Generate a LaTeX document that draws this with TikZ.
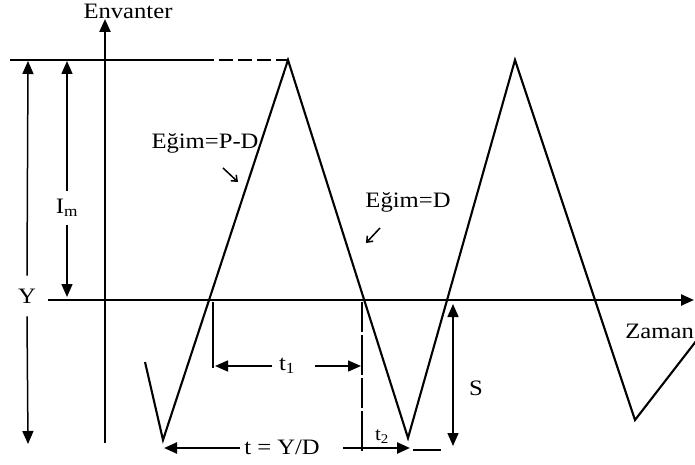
\documentclass[tikz,border=0pt]{standalone}
\usepackage{fontspec}
\setmainfont{Liberation Serif}[FakeStretch=1.12]
\usetikzlibrary{arrows.meta}
\tikzset{
  lbl/.style={inner sep=0pt, font=\fontsize{22}{26}\selectfont},
  smalllbl/.style={inner sep=0pt, font=\fontsize{19}{22}\selectfont},
  tri/.style={-{Triangle[length=13pt,width=11pt]}},
  thin line/.style={line width=1.5pt},
  axis/.style={line width=2.4pt},
  curve/.style={line width=2.1pt, line join=miter},
  barb/.style={line width=1.5pt, -{Straight Barb[length=5pt,width=8pt]}}
}
\begin{document}
\begin{tikzpicture}[x=1pt,y=-1pt]
\useasboundingbox (0,0) rectangle (695,465);
% named points
\coordinate (vb) at (105,443);
\coordinate (vt) at (105,19);
\coordinate (hl) at (48,300);
\coordinate (hr) at (694,300);
\coordinate (tl) at (10,60);
\coordinate (tm) at (200,60);
\coordinate (p0) at (145,362);
\coordinate (p1) at (163,440);
\coordinate (p2) at (288,60);
\coordinate (p3) at (408,438);
\coordinate (p4) at (515,60);
\coordinate (p5) at (635,420);
\coordinate (p6) at (700,336);
% axes
\draw[axis,tri] (vb) -- (vt);
\node[lbl] (env) at (128,11) {Envanter};
\draw[axis,tri] (hl) -- (hr);
\node[lbl,anchor=east] (zaman) at (694,331) {Zaman};
% top reference line
\draw[thin line] (tl) -- (tm);
\draw[thin line,dash pattern=on 14pt off 5pt] (tm) -- (p2);
% sawtooth
\draw[curve] (p0) -- (p1) -- (p2) -- (p3) -- (p4) -- (p5) -- (p6);
% Y dimension
\node[lbl] (ylab) at (27,296) {Y};
\coordinate (ytop) at (28,61);
\coordinate (ybot) at (28,444);
\draw[thin line,tri] (ylab.north) ++(0,-13) coordinate (ya) -- (ytop);
\draw[thin line,tri] (ylab.south) ++(0,13) coordinate (yb) -- (ybot);
% Im dimension
\node[lbl] (im) at (67,208) {I\textsubscript{m}};
\coordinate (imtop) at (67,61);
\coordinate (imbot) at (67,297);
\draw[thin line,tri] (im.north) ++(0,-8) coordinate (ia) -- (imtop);
\draw[thin line,tri] (im.south) ++(0,8) coordinate (ib) -- (imbot);
% vertical guides
\coordinate (g1a) at (213,302);
\coordinate (g1b) at (213,368);
\coordinate (g2a) at (362,302);
\coordinate (g2b) at (362,451);
\draw[thin line] (g1a) -- (g1b);
\draw[thin line,dash pattern=on 30pt off 3pt on 40pt off 3pt] (g2a) -- (g2b);
% t1 dimension
\node[lbl] (t1) at (287,366) {t\textsubscript{1}};
\draw[thin line,tri] (272,366) coordinate (t1a) -- (215,366) coordinate (t1l);
\draw[thin line,tri] (315,366) coordinate (t1b) -- (361,366) coordinate (t1r);
% t = Y/D dimension
\node[lbl] (tyd) at (282,447) {t = Y/D};
\draw[axis,tri] (240,448) coordinate (ta) -- (164,448) coordinate (tleft);
\draw[axis,tri] (343,448) coordinate (tb) -- (410,448) coordinate (tright);
\draw[thin line] (413,450) coordinate (tc) -- (441,450) coordinate (td);
\node[smalllbl] (t2) at (382,437) {t\textsubscript{2}};
% S dimension
\coordinate (stop) at (453,304);
\coordinate (sbot) at (453,446);
\draw[thin line,{Triangle[length=13pt,width=11pt]}-{Triangle[length=13pt,width=11pt]}] (stop) -- (sbot);
\node[lbl] (slab) at (476,388) {S};
% slope labels
\node[lbl] (e1) at (205,143) {Eğim=P-D};
\draw[barb] (223,168) coordinate (e1a) -- (238,182) coordinate (e1b);
\node[lbl] (e2) at (408,202) {Eğim=D};
\draw[barb] (380,228) coordinate (e2a) -- (366,243) coordinate (e2b);
\end{tikzpicture}
\end{document}
